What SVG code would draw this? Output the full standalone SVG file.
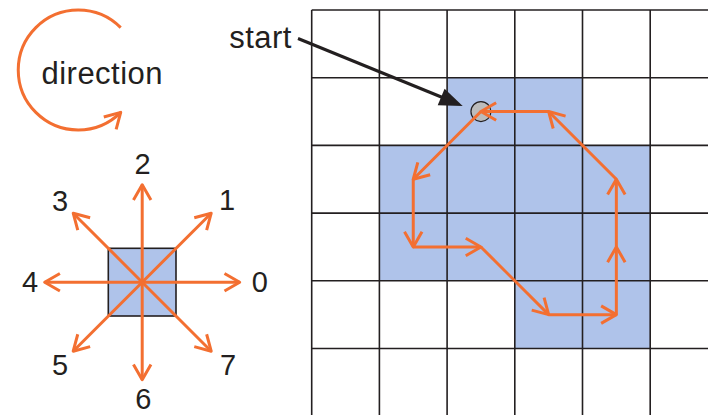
<svg xmlns="http://www.w3.org/2000/svg" width="708" height="415" viewBox="0 0 708 415">
<style>
.txt{font-family:"Liberation Sans",Arial,sans-serif;fill:#231f20}
.dig{font-size:29px;text-anchor:middle}
.or{stroke:#f36f31;stroke-width:3;fill:none;marker-end:url(#ah)}
.grid line{stroke:#231f20;stroke-width:1.6}
.blue{fill:#afc3ea}
</style>
<defs>
<marker id="ah" viewBox="-20 -12 24 24" markerWidth="24" markerHeight="24" refX="0" refY="0" orient="auto" markerUnits="userSpaceOnUse" overflow="visible">
<path d="M-15.2,-8.75 L0,0 L-15.2,8.75" fill="none" stroke="#f36f31" stroke-width="3" stroke-linejoin="round"/>
</marker>
</defs>
<rect width="708" height="415" fill="#fff"/>

<g id="direction-legend">
<path class="or" d="M120.7,27.6 A60,60 0 1 0 120.7,112.4"/>
<text class="txt" x="41.5" y="84" font-size="31" textLength="121" lengthAdjust="spacing">direction</text>
</g>

<g id="chain-code-legend">
<rect x="108.3" y="248.3" width="67.7" height="67.7" class="blue" stroke="#231f20" stroke-width="1.6"/>
<line class="or" x1="142.2" y1="282.2" x2="239.7" y2="282.2"/>
<line class="or" x1="142.2" y1="282.2" x2="211.2" y2="213.2"/>
<line class="or" x1="142.2" y1="282.2" x2="142.2" y2="184.7"/>
<line class="or" x1="142.2" y1="282.2" x2="73.2" y2="213.2"/>
<line class="or" x1="142.2" y1="282.2" x2="44.7" y2="282.2"/>
<line class="or" x1="142.2" y1="282.2" x2="73.2" y2="351.2"/>
<line class="or" x1="142.2" y1="282.2" x2="142.2" y2="379.7"/>
<line class="or" x1="142.2" y1="282.2" x2="211.2" y2="351.2"/>
<text class="txt dig" x="259.7" y="291.7">0</text>
<text class="txt dig" x="227" y="210">1</text>
<text class="txt dig" x="142.5" y="174">2</text>
<text class="txt dig" x="60" y="210.5">3</text>
<text class="txt dig" x="30" y="291.7">4</text>
<text class="txt dig" x="60" y="375">5</text>
<text class="txt dig" x="143.3" y="409">6</text>
<text class="txt dig" x="228" y="375">7</text>
</g>

<g id="grid">
<rect class="blue" x="447.1" y="77.7" width="135.4" height="67.7"/>
<rect class="blue" x="379.4" y="145.4" width="270.8" height="135.4"/>
<rect class="blue" x="514.8" y="280.8" width="135.4" height="67.7"/>
<g class="grid">
<line x1="311.7" y1="10" x2="311.7" y2="415"/>
<line x1="379.4" y1="10" x2="379.4" y2="415"/>
<line x1="447.1" y1="10" x2="447.1" y2="415"/>
<line x1="514.8" y1="10" x2="514.8" y2="415"/>
<line x1="582.5" y1="10" x2="582.5" y2="415"/>
<line x1="650.2" y1="10" x2="650.2" y2="415"/>
<line x1="311.7" y1="10" x2="708" y2="10"/>
<line x1="311.7" y1="77.7" x2="708" y2="77.7"/>
<line x1="311.7" y1="145.4" x2="708" y2="145.4"/>
<line x1="311.7" y1="213.1" x2="708" y2="213.1"/>
<line x1="311.7" y1="280.8" x2="708" y2="280.8"/>
<line x1="311.7" y1="348.5" x2="708" y2="348.5"/>
</g>
</g>

<g id="start-point">
<circle cx="480.95" cy="111.55" r="10" fill="#bcbcbc" stroke="#231f20" stroke-width="1.2"/>
</g>

<g id="start-label">
<text class="txt" x="229.3" y="48.3" font-size="31" textLength="62" lengthAdjust="spacing">start</text>
</g>

<g id="connectors">
<line x1="298" y1="38.5" x2="445" y2="98.5" stroke="#231f20" stroke-width="3"/>
<polygon points="462.7,106 437.7,105.3 444.6,88.8" fill="#231f20"/>
<line class="or" x1="480.95" y1="111.55" x2="413.25" y2="179.25"/>
<line class="or" x1="413.25" y1="179.25" x2="413.25" y2="246.95"/>
<line class="or" x1="413.25" y1="246.95" x2="480.95" y2="246.95"/>
<line class="or" x1="480.95" y1="246.95" x2="548.65" y2="314.65"/>
<line class="or" x1="548.65" y1="314.65" x2="616.35" y2="314.65"/>
<line class="or" x1="616.35" y1="314.65" x2="616.35" y2="246.95"/>
<line class="or" x1="616.35" y1="246.95" x2="616.35" y2="179.25"/>
<line class="or" x1="616.35" y1="179.25" x2="548.65" y2="111.55"/>
<line class="or" x1="548.65" y1="111.55" x2="480.95" y2="111.55"/>
</g>
</svg>
